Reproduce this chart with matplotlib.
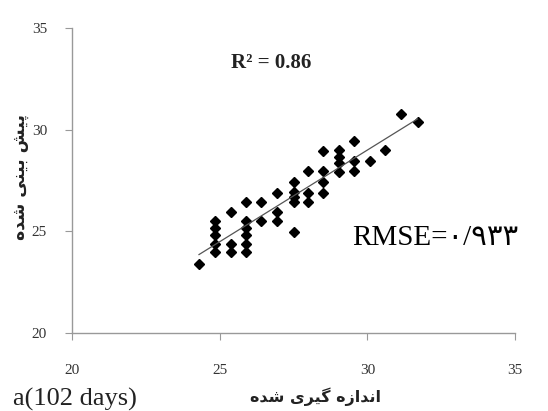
import numpy as np
import matplotlib
matplotlib.use('Agg')
import matplotlib.pyplot as plt

plt.rcParams['font.family'] = ['Liberation Serif', 'DejaVu Sans']

measured = [24.3,
            24.85, 24.85, 24.85, 24.85, 24.85,
            25.4, 25.4, 25.4,
            25.9, 25.9, 25.9, 25.9, 25.9, 25.9,
            26.4, 26.4,
            26.95, 26.95, 26.95,
            27.5, 27.5, 27.5, 27.5, 27.5,
            28.0, 28.0, 28.0,
            28.5, 28.5, 28.5, 28.5,
            29.05, 29.05, 29.05, 29.05,
            29.55, 29.55, 29.55,
            30.1, 30.6, 31.15, 31.7]
predicted = [23.4,
             25.5, 25.15, 24.8, 24.4, 24.0,
             25.95, 24.4, 24.0,
             26.45, 25.5, 25.15, 24.8, 24.4, 24.0,
             26.45, 25.5,
             26.9, 25.95, 25.5,
             27.45, 26.95, 26.7, 26.45, 24.95,
             27.95, 26.9, 26.45,
             28.95, 27.95, 27.45, 26.9,
             29.0, 28.65, 28.35, 27.9,
             29.45, 28.45, 27.95,
             28.45, 29.0, 30.75, 30.4]
ticks = [20, 25, 30, 35]

r2_text = 'R\u00b2 = 0.86'
rmse_text = 'RMSE=\u06f0/\u06f9\u06f3\u06f3'
# Persian labels, written in shaped presentation forms (visual order)
xlab = '\uFEE9\uFEAA\uFEB7 \uFBFC\uFEAE\uFBFF\uFB94 \uFEE9\uFEAF\uFE8D\uFEAA\uFEE7\uFE8D'
ylab = '\uFEE9\uFEAA\uFEB7 \uFBFD\uFEE8\uFBFF\uFE91 \uFEB6\uFBFF\uFB58'
panel = 'a(102 days)'

W, H = 548, 411
fig = plt.figure(figsize=(W / 100, H / 100), dpi=100)
ax = fig.add_axes([72 / W, 1 - 333 / H, (515 - 72) / W, (333 - 28) / H])

x = np.array(measured)
y = np.array(predicted)
ax.plot(x, y, 'D', color='black', ms=4.8, mec='black')
k, b = np.polyfit(x, y, 1)
xl = np.array([x.min(), x.max()])
ax.plot(xl, k * xl + b, color='#555555', lw=0.9)

ax.set_xlim(20, 35)
ax.set_ylim(20, 35)
ax.set_xticks(ticks)
ax.set_yticks(ticks)
for s in ['top', 'right']:
    ax.spines[s].set_visible(False)
for s in ['left', 'bottom']:
    ax.spines[s].set_color('#999999')
    ax.spines[s].set_linewidth(1.0)
ax.tick_params(axis='both', direction='out', length=5, color='#999999',
               labelsize=11, labelcolor='#333333')
ax.tick_params(axis='x', pad=17)
ax.tick_params(axis='y', pad=13)

fig.text(271 / W, 1 - 63 / H, r2_text, ha='center', va='center',
         fontsize=15, fontweight='bold', color='#222222')
fig.text(352 / W, 1 - 238 / H, rmse_text, ha='left', va='center',
         fontsize=21, color='black')
fig.text(315 / W, 1 - 397 / H, xlab, ha='center', va='center',
         fontsize=11.5, fontweight='bold', color='#222222',
         family=['DejaVu Sans'])
fig.text(20 / W, 1 - 177 / H, ylab, ha='center', va='center', rotation=90,
         fontsize=12.5, fontweight='bold', color='#222222',
         family=['DejaVu Sans'])
fig.text(13 / W, 1 - 399 / H, panel, ha='left', va='center',
         fontsize=19, color='#222222')

fig.savefig('out.png', dpi=100)
